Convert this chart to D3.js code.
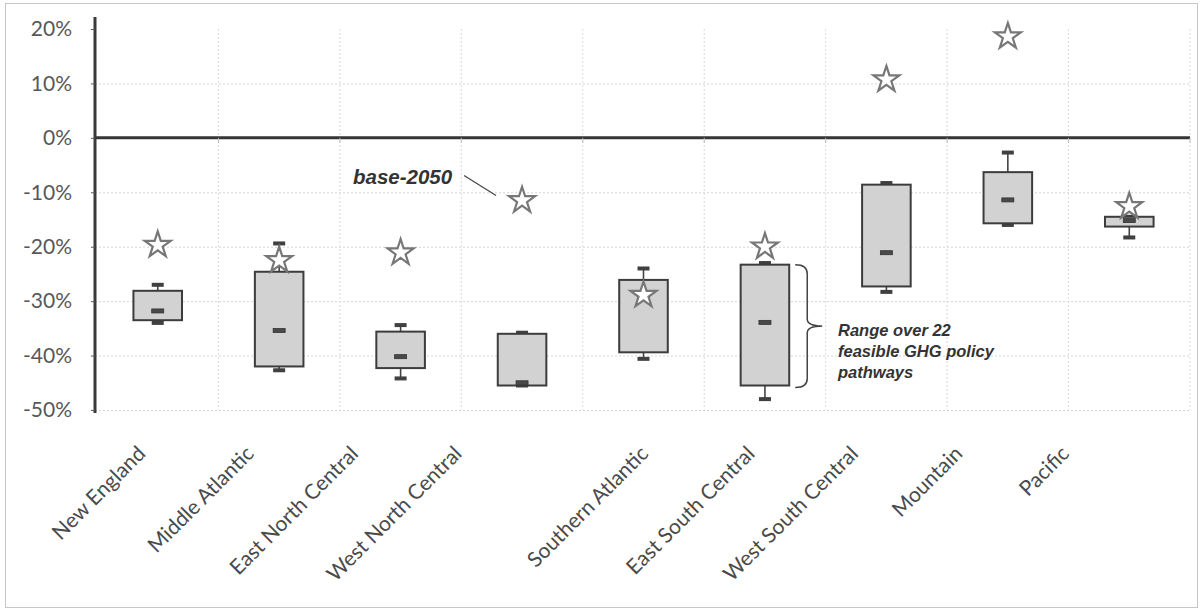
<!DOCTYPE html>
<html>
<head>
<meta charset="utf-8">
<script src="https://cdn.jsdelivr.net/npm/d3@7"></script>
<style>
  html, body { margin: 0; padding: 0; background: #fff; }
  svg { display: block; }
</style>
</head>
<body>
<svg id="chart" width="1203" height="611"></svg>
<script>
// Census regions and the spread of 2050 emission changes (%) across policy pathways
const regions = ["New England", "Middle Atlantic", "East North Central", "West North Central",
  "Southern Atlantic", "East South Central", "West South Central", "Mountain", "Pacific"];
const whiskerHigh = [-27.0, -19.4, -34.4, -35.8, -24.0, -23.0, -8.3, -2.7, -14.5];
const boxHigh     = [-28.1, -24.6, -35.6, -36.0, -26.1, -23.3, -8.6, -6.3, -14.5];
const medians     = [-31.8, -35.4, -40.2, -45.0, -29.0, -33.9, -21.1, -11.4, -15.2];
const boxLow      = [-33.5, -42.0, -42.3, -45.5, -39.4, -45.5, -27.3, -15.7, -16.3];
const whiskerLow  = [-34.0, -42.7, -44.2, -45.5, -40.6, -48.0, -28.3, -16.0, -18.3];
const base2050    = [-19.7, -22.5, -21.1, -11.5, -28.9, -20.0, 10.7, 18.6, -12.6];
const yTicks = [20, 10, 0, -10, -20, -30, -40, -50];

// Layout
const W = 1203, H = 611;
const plot = { left: 97, right: 1190, top: 29, bottom: 410 };
const axisX = 95;
const labelBaseY = 455;
// horizontal shift of each rotated category label relative to its band centre
const labelNudge = [-11, -24, -41, -59, 6, -9, -27, -44, -59];

const svg = d3.select("#chart");

const x = d3.scaleBand().domain(regions).range([plot.left, plot.right]).paddingInner(0).paddingOuter(0);
const y = d3.scaleLinear().domain([-50, 20]).range([plot.bottom, plot.top]);
const cx = d => x(d) + x.bandwidth() / 2;
const boxW = x.bandwidth() * 0.4;

// Dotted frame around the chart area
svg.append("rect")
  .attr("x", 5.5).attr("y", 3.5).attr("width", W - 11).attr("height", H - 7)
  .attr("fill", "none").attr("stroke", "#8c8c8c").attr("stroke-width", 1)
  .attr("stroke-dasharray", "1,1");

// Horizontal gridlines
svg.append("g")
  .attr("transform", `translate(${axisX},0)`)
  .call(d3.axisLeft(y).tickValues(yTicks.filter(t => t !== 0 && t !== 20))
    .tickSize(-(plot.right - axisX)).tickFormat(""))
  .call(g => g.select(".domain").remove())
  .call(g => g.selectAll("line").attr("stroke", "#d4d4d4").attr("stroke-dasharray", "2,2"));

// Vertical gridlines at band boundaries
const boundaries = regions.slice(1).map(r => x(r)).concat([plot.right]);
svg.append("g").selectAll("line").data(boundaries).join("line")
  .attr("x1", d => d).attr("x2", d => d)
  .attr("y1", plot.top).attr("y2", plot.bottom)
  .attr("stroke", "#dcdcdc").attr("stroke-dasharray", "2,2");

// Zero line with small ticks at band boundaries
svg.append("line")
  .attr("x1", axisX).attr("x2", plot.right)
  .attr("y1", y(0)).attr("y2", y(0))
  .attr("stroke", "#353535").attr("stroke-width", 3);
svg.append("g").selectAll("line").data(boundaries).join("line")
  .attr("x1", d => d).attr("x2", d => d)
  .attr("y1", y(0)).attr("y2", y(0) + 5)
  .attr("stroke", "#bbb");

// Y axis
const yAxis = svg.append("g")
  .attr("transform", `translate(${axisX},0)`)
  .call(d3.axisLeft(y).tickValues(yTicks).tickFormat(d => d + "%").tickSize(4).tickPadding(19).tickSizeOuter(0));
yAxis.select(".domain")
  .attr("d", `M0,${plot.top - 12}V${plot.bottom + 3}`)
  .attr("stroke", "#3a3a3a").attr("stroke-width", 3);
yAxis.selectAll("line").attr("stroke", "#555");
yAxis.selectAll("text")
  .attr("font-family", "Lato, 'Open Sans', sans-serif")
  .attr("font-size", 21).attr("fill", "#585858");

// Category labels, rotated
const xAxis = svg.append("g")
  .call(d3.axisBottom(x).tickSize(0))
  .call(g => g.select(".domain").remove());
xAxis.selectAll(".tick").attr("transform", null);
xAxis.selectAll("text")
  .attr("x", 0).attr("y", 0).attr("dy", 0)
  .attr("transform", (d, i) => `translate(${cx(d) + labelNudge[i]},${labelBaseY}) rotate(-45)`)
  .attr("text-anchor", "end")
  .attr("font-family", "Lato, 'Open Sans', sans-serif")
  .attr("font-size", 21).attr("fill", "#4a4a4a");

// Boxes and whiskers
const stats = regions.map((r, i) => ({
  region: r, wHi: whiskerHigh[i], bHi: boxHigh[i], med: medians[i],
  bLo: boxLow[i], wLo: whiskerLow[i], base: base2050[i]
}));
const capW = 12, capH = 4;
const boxes = svg.append("g").selectAll("g").data(stats).join("g");

boxes.append("line")
  .attr("x1", d => cx(d.region)).attr("x2", d => cx(d.region))
  .attr("y1", d => y(d.wHi)).attr("y2", d => y(d.wLo))
  .attr("stroke", "#444").attr("stroke-width", 1.6);
boxes.append("rect")
  .attr("x", d => cx(d.region) - capW / 2).attr("width", capW)
  .attr("y", d => y(d.wHi) - capH / 2).attr("height", capH)
  .attr("fill", "#404040");
boxes.append("rect")
  .attr("x", d => cx(d.region) - capW / 2).attr("width", capW)
  .attr("y", d => y(d.wLo) - capH / 2).attr("height", capH)
  .attr("fill", "#404040");
boxes.append("rect")
  .attr("x", d => cx(d.region) - boxW / 2).attr("width", boxW)
  .attr("y", d => y(d.bHi)).attr("height", d => y(d.bLo) - y(d.bHi))
  .attr("fill", "#d2d2d2").attr("stroke", "#3c3c3c").attr("stroke-width", 2);
boxes.append("rect")
  .attr("x", d => cx(d.region) - capW / 2).attr("width", capW)
  .attr("y", d => y(d.med) - capH / 2).attr("height", capH)
  .attr("fill", "#4a4a4a").attr("stroke", "#333").attr("stroke-width", 0.8);

// Base-2050 stars
const star = d3.symbol().type(d3.symbolStar).size(210);
svg.append("g").selectAll("path").data(stats).join("path")
  .attr("d", star)
  .attr("transform", d => `translate(${cx(d.region)},${y(d.base)})`)
  .attr("fill", "#fff").attr("stroke", "#777").attr("stroke-width", 2.2)
  .attr("stroke-linejoin", "miter");

// Annotation: base-2050 with leader line to the West North Central star
const wnc = stats[3];
const ann = svg.append("g")
  .attr("font-family", "'Liberation Sans', Arial, sans-serif")
  .attr("font-weight", "bold").attr("font-style", "italic").attr("fill", "#333");
ann.append("text")
  .attr("x", 353).attr("y", 184)
  .attr("font-size", 20.5)
  .text("base-2050");
ann.append("line")
  .attr("x1", cx(wnc.region) - 58).attr("y1", y(wnc.base) - 25)
  .attr("x2", cx(wnc.region) - 26).attr("y2", y(wnc.base) - 5)
  .attr("stroke", "#444").attr("stroke-width", 1.2);

// Annotation: bracket spanning the East South Central box
const esc = stats[5];
const bx = cx(esc.region) + boxW / 2 + 6;
const bTop = y(esc.bHi), bBot = y(esc.bLo) + 2, bMid = (bTop + bBot) / 2;
const spine = bx + 12, tip = spine + 15;
ann.append("path")
  .attr("d", `M${bx},${bTop} Q${spine},${bTop} ${spine},${bTop + 9} L${spine},${bMid - 7} Q${spine},${bMid} ${tip},${bMid}` +
             ` M${tip},${bMid} Q${spine},${bMid} ${spine},${bMid + 7} L${spine},${bBot - 9} Q${spine},${bBot} ${bx},${bBot}`)
  .attr("fill", "none").attr("stroke", "#444").attr("stroke-width", 1.5);
const rangeLines = ["Range over 22", "feasible GHG policy", "pathways"];
ann.append("text")
  .attr("font-size", 16.5)
  .selectAll("tspan").data(rangeLines).join("tspan")
  .attr("x", 838).attr("y", (d, i) => 336 + i * 21)
  .text(d => d);
</script>
</body>
</html>
